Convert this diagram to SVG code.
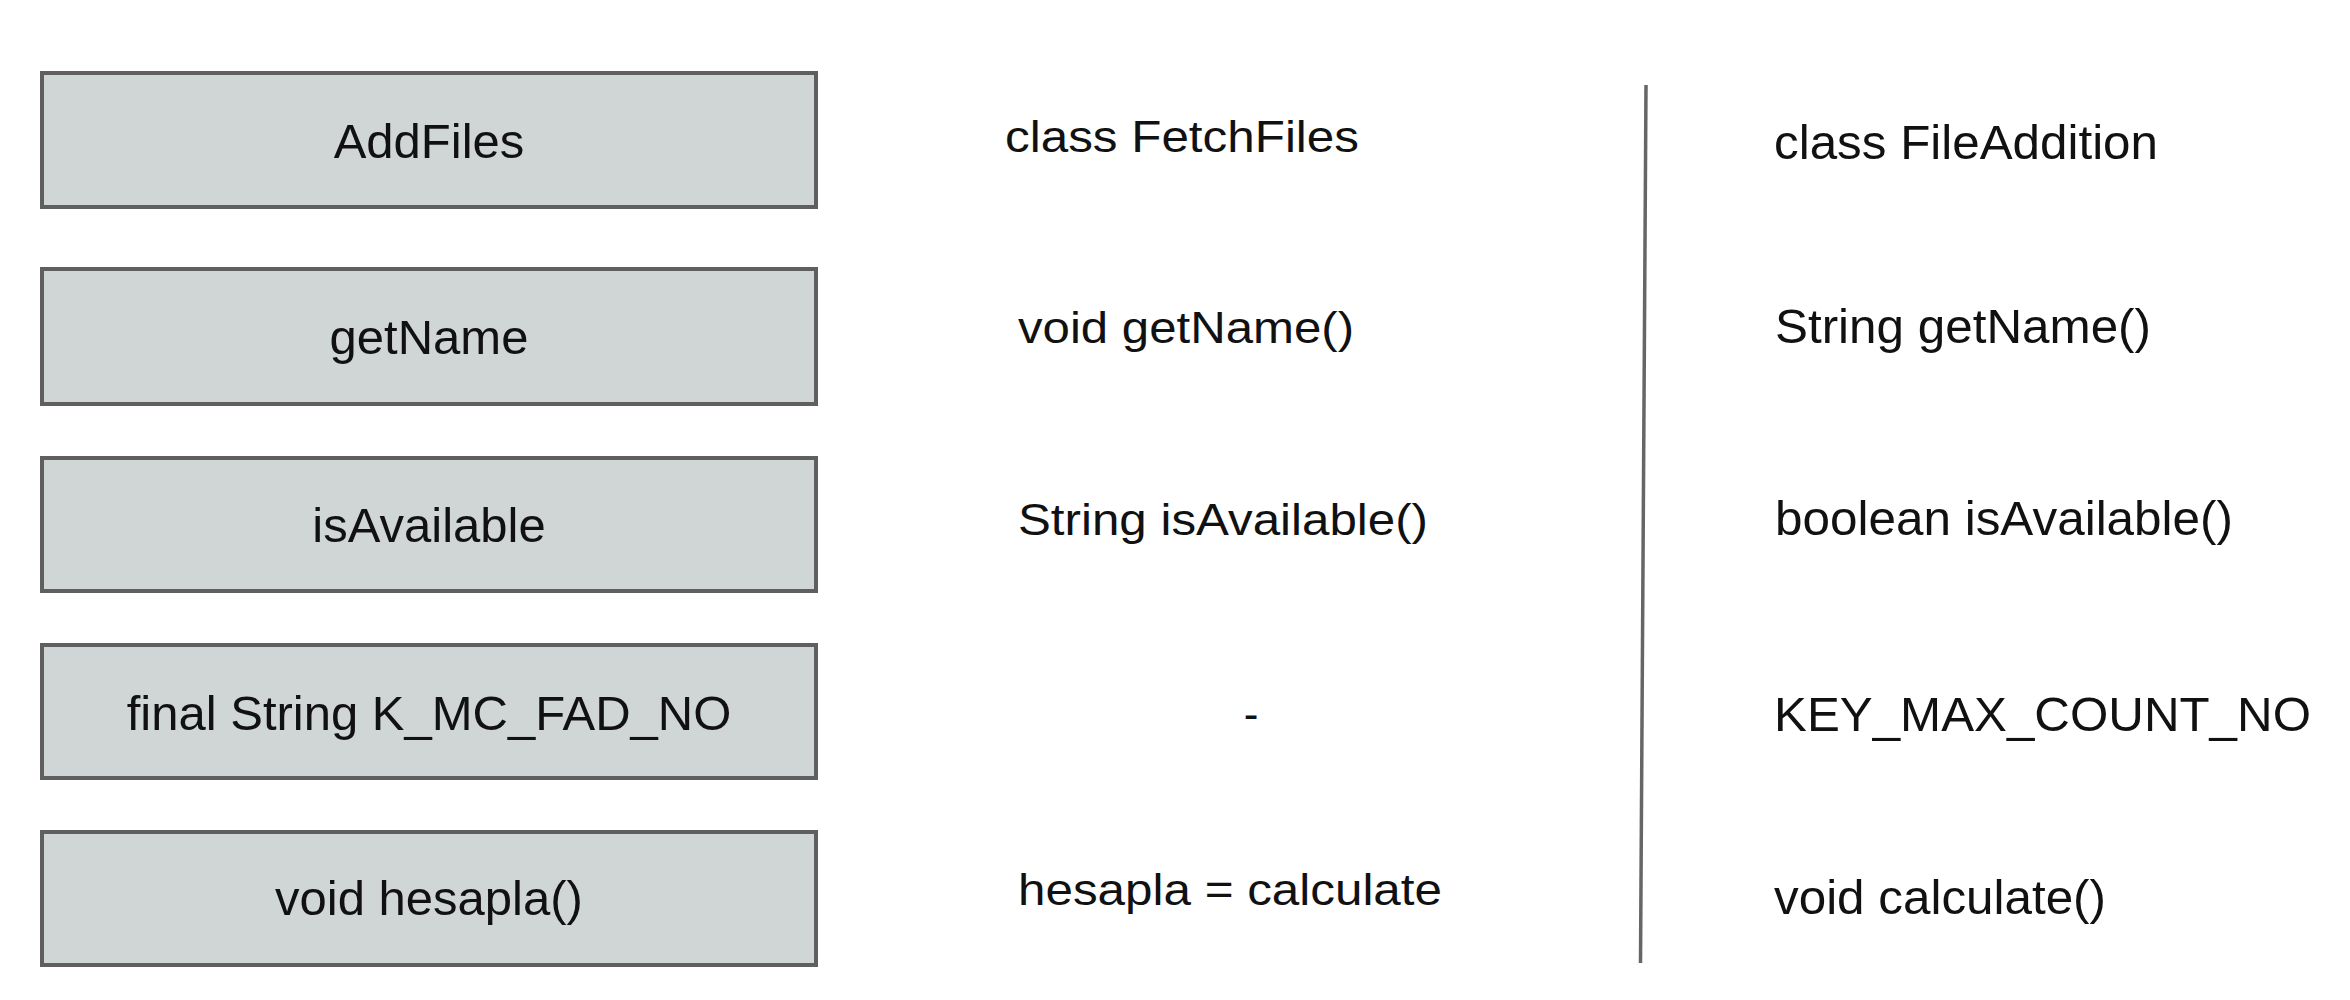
<svg xmlns="http://www.w3.org/2000/svg" width="2350" height="1000" viewBox="0 0 2350 1000">
  <style>
    .box { fill: #d0d5d6; stroke: #5f5f5f; stroke-width: 4; }
    .boxtxt { font-family: "Liberation Sans", Arial, sans-serif; font-size: 49px; fill: #111; text-anchor: middle; }
    .mid { font-family: "Liberation Sans", Arial, sans-serif; font-size: 44px; fill: #111; }
    .right { font-family: "Liberation Sans", Arial, sans-serif; font-size: 49px; fill: #111; }
    .divider { stroke: #666; stroke-width: 3.5; fill: none; }
  </style>
  <rect width="2350" height="1000" fill="#ffffff"/>

  <g id="box-addfiles">
    <rect class="box" x="42" y="73" width="774" height="134"/>
    <text class="boxtxt" x="429" y="158">AddFiles</text>
  </g>
  <g id="box-getname">
    <rect class="box" x="42" y="269" width="774" height="135"/>
    <text class="boxtxt" x="429" y="354">getName</text>
  </g>
  <g id="box-isavailable">
    <rect class="box" x="42" y="458" width="774" height="133"/>
    <text class="boxtxt" x="429" y="542">isAvailable</text>
  </g>
  <g id="box-final">
    <rect class="box" x="42" y="645" width="774" height="133"/>
    <text class="boxtxt" x="429" y="730">final String K_MC_FAD_NO</text>
  </g>
  <g id="box-hesapla">
    <rect class="box" x="42" y="832" width="774" height="133"/>
    <text class="boxtxt" x="429" y="915">void hesapla()</text>
  </g>

  <g id="col-fetchfiles">
    <text class="mid" x="1005" y="152" textLength="354" lengthAdjust="spacingAndGlyphs">class FetchFiles</text>
    <text class="mid" x="1018" y="343" textLength="336" lengthAdjust="spacingAndGlyphs">void getName()</text>
    <text class="mid" x="1018" y="535" textLength="410" lengthAdjust="spacingAndGlyphs">String isAvailable()</text>
    <text class="mid" x="1251" y="729" text-anchor="middle">-</text>
    <text class="mid" x="1018" y="905" textLength="424" lengthAdjust="spacingAndGlyphs">hesapla = calculate</text>
  </g>

  <g id="connectors">
    <line class="divider" x1="1646" y1="85" x2="1640.5" y2="963"/>
  </g>

  <g id="col-fileaddition">
    <text class="right" x="1774" y="159" textLength="384" lengthAdjust="spacingAndGlyphs">class FileAddition</text>
    <text class="right" x="1775" y="343" textLength="376" lengthAdjust="spacingAndGlyphs">String getName()</text>
    <text class="right" x="1775" y="535" textLength="458" lengthAdjust="spacingAndGlyphs">boolean isAvailable()</text>
    <text class="right" x="1774" y="731" textLength="537" lengthAdjust="spacingAndGlyphs">KEY_MAX_COUNT_NO</text>
    <text class="right" x="1774" y="914" textLength="332" lengthAdjust="spacingAndGlyphs">void calculate()</text>
  </g>
</svg>
